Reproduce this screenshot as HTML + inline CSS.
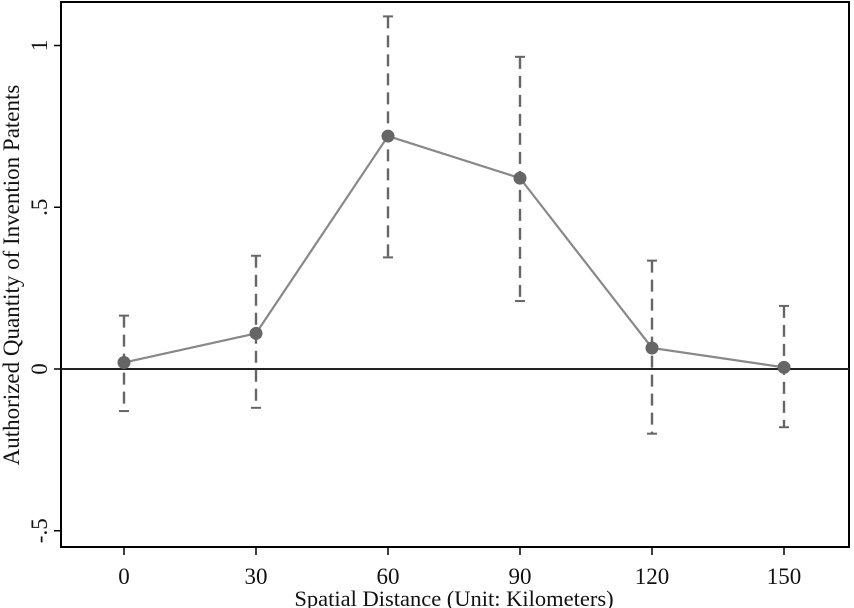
<!DOCTYPE html>
<html><head><meta charset="utf-8"><style>
body{margin:0;background:#fff}
svg{display:block;font-family:"Liberation Serif",serif}
</style></head><body>
<svg id="chart" width="854" height="608" viewBox="0 0 854 608" xmlns="http://www.w3.org/2000/svg"></svg>
<script>
const categories=[0,30,60,90,120,150];
const estimates=[0.02,0.11,0.72,0.59,0.065,0.005];
const lowerCI=[-0.13,-0.12,0.345,0.21,-0.2,-0.18];
const upperCI=[0.165,0.35,1.09,0.965,0.335,0.195];
const yTicks=[-0.5,0,0.5,1];
const yTickLabels=["-.5","0",".5","1"];

const NS="http://www.w3.org/2000/svg";
const svg=document.getElementById('chart');
const X=v=>124+(v-0)*(132/30);
const Y=v=>369-v*323.5;
function mk(t,a,p){const e=document.createElementNS(NS,t);for(const k in a)e.setAttribute(k,a[k]);(p||svg).appendChild(e);return e;}

const frame=mk('rect',{x:61,y:2,width:788,height:545,fill:'none',stroke:'#000','stroke-width':2});



const zl=mk('line',{x1:61,x2:849,y1:Y(0),y2:Y(0),stroke:'#222','stroke-width':2});



yTicks.forEach((v,i)=>{
  const t=mk('line',{x1:54,x2:61,y1:Y(v),y2:Y(v),stroke:'#000','stroke-width':1.5});
  
  
  const l=mk('text',{x:0,y:0,transform:`translate(47,${Y(v)}) rotate(-90)`,'text-anchor':'middle','font-size':23,fill:'#111'});
  l.textContent=yTickLabels[i];
  
  
});
categories.forEach(c=>{
  const t=mk('line',{x1:X(c),x2:X(c),y1:547,y2:555,stroke:'#000','stroke-width':1.5});
  
  
  const l=mk('text',{x:X(c),y:584,'text-anchor':'middle','font-size':23,fill:'#111'});
  l.textContent=c;
  
  
});

categories.forEach((c,i)=>{
  const g=mk('g',{});
  
  
  mk('line',{x1:X(c),x2:X(c),y1:Y(upperCI[i]),y2:Y(lowerCI[i]),stroke:'#666','stroke-width':2.4,'stroke-dasharray':'12,7'},g);
  mk('line',{x1:X(c)-5,x2:X(c)+5,y1:Y(upperCI[i]),y2:Y(upperCI[i]),stroke:'#666','stroke-width':2},g);
  mk('line',{x1:X(c)-5,x2:X(c)+5,y1:Y(lowerCI[i]),y2:Y(lowerCI[i]),stroke:'#666','stroke-width':2},g);
});

const pl=mk('polyline',{points:categories.map((c,i)=>X(c)+','+Y(estimates[i])).join(' '),fill:'none',stroke:'#888','stroke-width':2.2});


categories.forEach((c,i)=>{
  const p=mk('circle',{cx:X(c),cy:Y(estimates[i]),r:6.5,fill:'#666'});
  
  
});

const xt=mk('text',{x:454,y:606,'text-anchor':'middle','font-size':22.5,fill:'#111'});
xt.textContent='Spatial Distance (Unit: Kilometers)';


const yt=mk('text',{x:0,y:0,transform:'translate(19,275) rotate(-90)','text-anchor':'middle','font-size':23,fill:'#111'});
yt.textContent='Authorized Quantity of Invention Patents';


</script>
</body></html>
